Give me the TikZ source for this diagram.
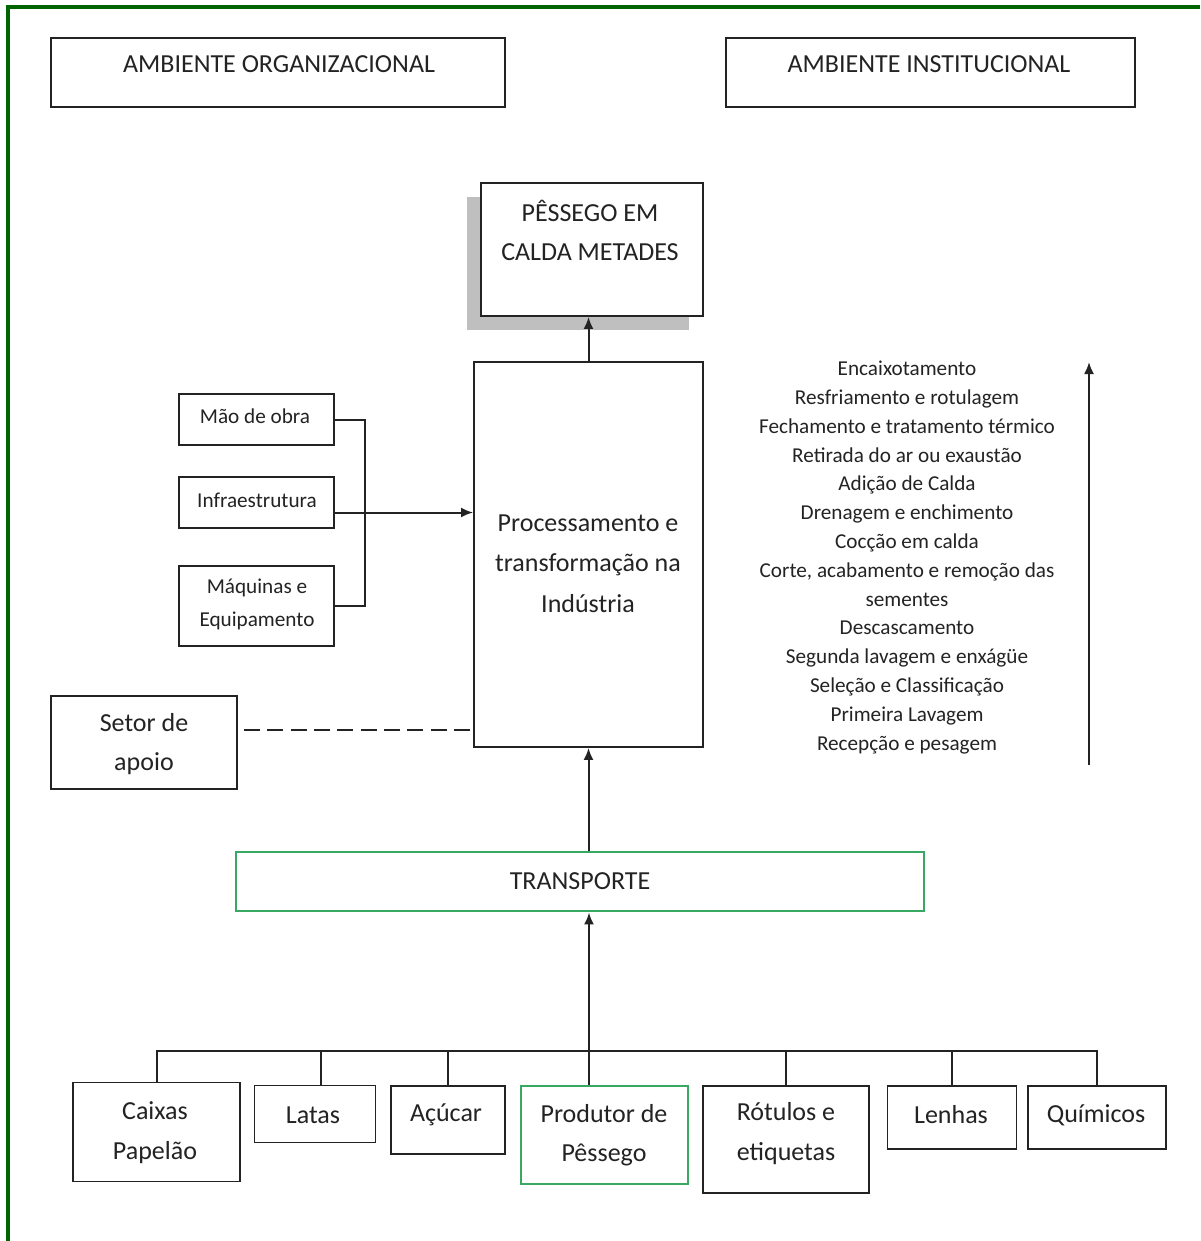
\documentclass[tikz,border=0pt]{standalone}
\usepackage{fontspec}
\setmainfont{Carlito}
\usetikzlibrary{shapes.geometric, arrows, arrows.meta, calc}
\definecolor{verdemoldura}{RGB}{0,100,0}
\definecolor{verdecaixa}{RGB}{56,168,98}
\definecolor{tinta}{RGB}{35,35,35}

\begin{document}
\begin{tikzpicture}[x=0.75pt,y=0.75pt,yscale=-1,xscale=1,
  caixa/.style 2 args={draw=tinta, line width=1.4pt, fill=white, inner sep=0pt, minimum width=#1*0.75pt, minimum height=#2*0.75pt},
  caixaverde/.style 2 args={caixa={#1}{#2}, draw=verdecaixa, line width=2.2pt},
  grande/.style={text=tinta, align=center, font=\fontsize{19.5}{29.5}\selectfont},
  pequeno/.style={text=tinta, align=center, font=\fontsize{15.9}{21.6}\selectfont},
  liga/.style={draw=tinta, line width=1.5pt},
  seta/.style={liga, -{Latex[length=9pt,width=7.5pt]}}]
\useasboundingbox (0,0) rectangle (1200,1241);
%moldura verde (so esquerda e topo aparecem)
\draw [verdemoldura, line width=3pt]  (8,1241) -- (8,7) -- (1200,7) ;
%ambientes
\node [caixa={454}{69}] (org) at (278,72.5) {};
\node [caixa={409}{69}] (inst) at (930.5,72.5) {};
%produto final com sombra
\fill [gray!50] (467,197) rectangle (689,330) ;
\node [caixa={222}{133}] (pessego) at (592,249.5) {};
\node [caixa={229}{385}] (proc) at (588.5,554.5) {};
\node [caixa={155}{51}] (mao) at (256.5,419.5) {};
\node [caixa={155}{51}] (infra) at (256.5,502.5) {};
\node [caixa={155}{80}] (maq) at (256.5,606) {};
\node [caixa={186}{93}] (setor) at (144,742.5) {};
\node [caixaverde={688}{59}] (transp) at (580,881.5) {};
%fornecedores
\node [caixa={167}{99}] (caixas) at (156.5,1132) {};
\node [caixa={121}{57}] (latas) at (315,1114) {};
\node [caixa={114}{68}] (acucar) at (448,1120) {};
\node [caixaverde={167}{98}] (prod) at (604.5,1135) {};
\node [caixa={166}{107}] (rotulos) at (786,1139.5) {};
\node [caixa={129}{63}] (lenhas) at (952,1117.5) {};
\node [caixa={138}{63}] (quimicos) at (1097,1117.5) {};
\coordinate (bus) at (589,1051);
\coordinate (infra-saida) at ($(infra.east)+(0,10)$);
\coordinate (setor-saida) at ($(setor.east)+(6,-12.5)$);
\coordinate (etapas-ini) at (1089,765);
\coordinate (etapas-fim) at (1089,362);
%ligacoes
\draw [seta] (proc.north) -- (proc.north |- pessego.south) ;
\draw [liga] (mao.east) -- ++(30,0) |- (maq.east) ;
\draw [seta] (infra-saida) -- (infra-saida -| proc.west) ;
\draw [liga, dash pattern=on 12pt off 5.5pt] (setor-saida) -- (setor-saida -| proc.west) ;
\draw [seta] (proc.south |- transp.north) -- (proc.south) ;
\draw [liga] (caixas.north) |- (bus) -| (quimicos.north) ;
\draw [liga] (latas.north) ++(6,0) -- ++(0,-35) ;
\foreach \f in {acucar,rotulos,lenhas}
  \draw [liga] (\f.north) -- (\f.north |- bus) ;
\draw [seta] (prod.north -| bus) -- (bus |- transp.south) ;
\draw [seta] (etapas-ini) -- (etapas-fim) ;
%textos
\node [grande] (org-txt) at (279,64) {AMBIENTE ORGANIZACIONAL};
\node [grande] (inst-txt) at (929,64) {AMBIENTE INSTITUCIONAL};
\node [grande] (pessego-txt) at (590,230.5) {PÊSSEGO EM\\CALDA METADES};
\node [grande, font=\fontsize{19.5}{30.5}\selectfont] (proc-txt) at (588,563.5) {Processamento e\\transformação na\\Indústria};
\node [pequeno] (mao-txt) at (255,416) {Mão de obra};
\node [pequeno] (infra-txt) at (257,500) {Infraestrutura};
\node [pequeno, font=\fontsize{15.9}{24.75}\selectfont] (maq-txt) at (257,604.5) {Máquinas e\\Equipamento};
\node [grande] (setor-txt) at (144,744) {Setor de\\apoio};
\node [grande] (transp-txt) at (580,881) {TRANSPORTE};
\node [grande] (caixas-txt) at (155,1132.5) {Caixas\\Papelão};
\node [grande] (latas-txt) at (313,1115) {Latas};
\node [grande] (acucar-txt) at (446,1115) {Açúcar};
\node [grande] (prod-txt) at (604,1135.5) {Produtor de\\Pêssego};
\node [grande] (rotulos-txt) at (786,1133.5) {Rótulos e\\etiquetas};
\node [grande] (lenhas-txt) at (951,1115) {Lenhas};
\node [grande] (quimicos-txt) at (1096,1115) {Químicos};
\node [pequeno] (etapas) at (907,557.5) {Encaixotamento\\Resfriamento e rotulagem\\Fechamento e tratamento térmico\\Retirada do ar ou exaustão\\Adição de Calda\\Drenagem e enchimento\\Cocção em calda\\Corte, acabamento e remoção das\\sementes\\Descascamento\\Segunda lavagem e enxágüe\\Seleção e Classificação\\Primeira Lavagem\\Recepção e pesagem};
\end{tikzpicture}
\end{document}
